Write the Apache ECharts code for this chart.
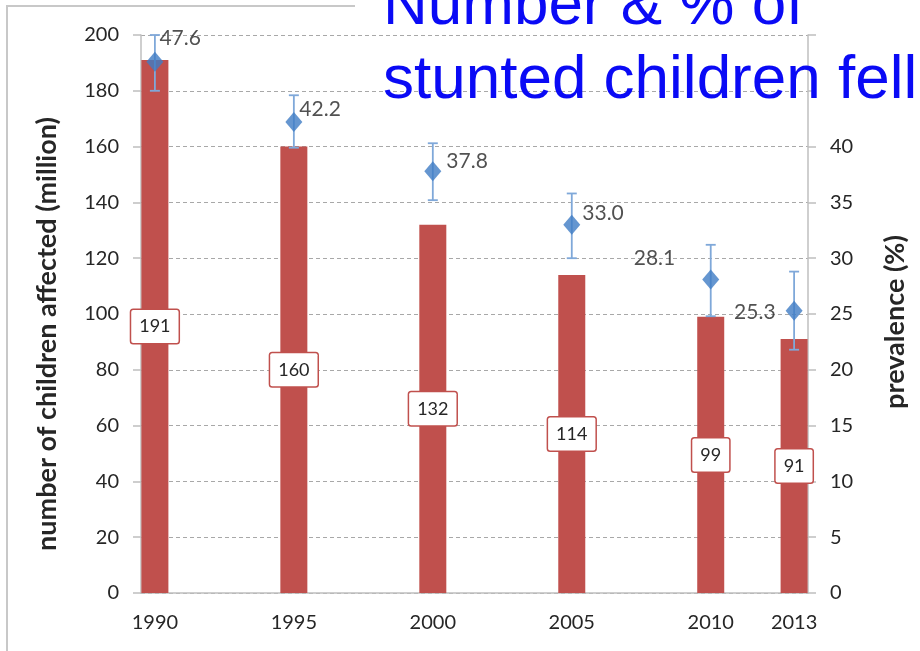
<!DOCTYPE html>
<html>
<head>
<meta charset="utf-8">
<script src="https://cdn.jsdelivr.net/npm/echarts@6/dist/echarts.min.js"></script>
<style>
  html, body { margin: 0; padding: 0; background: #fff; }
  #chart { width: 920px; height: 651px; }
</style>
</head>
<body>
<div id="chart"></div>
<script>
// values
var years = ['1990', '1995', '2000', '2005', '2010', '2013'];
var children = [191, 160, 132, 114, 99, 91];          // million
var prevalence = [47.6, 42.2, 37.8, 33.0, 28.1, 25.3]; // %
var prevLow = [45.0, 39.9, 35.2, 30.0, 24.8, 21.8];
var prevHigh = [50.0, 44.6, 40.3, 35.8, 31.2, 28.8];

// where each prevalence label sits next to its diamond
var labelPlace = [
    { position: 'right', distance: 0, offset: [-4, -24] },
    { position: 'right', distance: 0, offset: [-3, -13] },
    { position: 'right', distance: 5, offset: [0, -10] },
    { position: 'right', distance: 2, offset: [0, -11] },
    { position: 'left', distance: 27, offset: [0, -21] },
    { position: 'left', distance: 10, offset: [0, 2] }
];

// the axis is one slot per year, 1990..2013
var allYears = [];
for (var y = 1990; y <= 2013; y++) {
    allYears.push(String(y));
}

var red = '#c0504d';
var blue = '#3f7cc4';
var errBlue = '#7fa8d9';
var txt = '#262626';
var axisGrey = '#bfbfbf';
var font = 'Lato';

var barData = years.map(function (yr, i) {
    return [yr, children[i]];
});

var dotData = years.map(function (yr, i) {
    return {
        value: [yr, prevalence[i]],
        label: labelPlace[i]
    };
});

var errData = years.map(function (yr, i) {
    return [yr, prevLow[i], prevHigh[i]];
});

var chart = echarts.init(document.getElementById('chart'));

chart.setOption({
    animation: false,
    backgroundColor: '#fff',
    title: {
        text: 'Number & % of\nstunted children fell',
        left: 378,
        top: -35,
        textStyle: {
            fontFamily: 'Liberation Sans',
            fontSize: 62,
            fontWeight: 'normal',
            color: '#0a0af5',
            lineHeight: 74
        }
    },
    graphic: [{
        type: 'polyline',
        shape: { points: [[355, 6], [7, 6], [7, 651]] },
        style: { stroke: '#c8c8c8', lineWidth: 2, fill: null },
        z: -1
    }],
    grid: {
        left: 141,
        right: 112,
        top: 35,
        bottom: 58
    },
    xAxis: {
        type: 'category',
        data: allYears,
        boundaryGap: true,
        axisLine: { lineStyle: { color: axisGrey, width: 1.5 } },
        axisTick: {
            interval: 0,
            length: 8,
            lineStyle: { color: axisGrey, width: 1.5 }
        },
        axisLabel: {
            interval: function (idx, val) {
                return years.indexOf(val) >= 0;
            },
            margin: 20,
            color: txt,
            fontFamily: font,
            fontSize: 20
        },
        splitLine: { show: false }
    },
    yAxis: [{
        type: 'value',
        min: 0,
        max: 200,
        interval: 20,
        name: 'number of children affected (million)',
        nameLocation: 'middle',
        nameRotate: 90,
        nameGap: 80,
        nameTextStyle: {
            color: txt,
            fontFamily: font,
            fontWeight: 'bold',
            fontSize: 27,
            padding: [0, 40, 0, 0]
        },
        axisLine: { show: true, lineStyle: { color: axisGrey, width: 1.5 } },
        axisTick: { show: true, length: 8, lineStyle: { color: axisGrey, width: 1.5 } },
        axisLabel: {
            margin: 22,
            color: txt,
            fontFamily: font,
            fontSize: 20
        },
        splitLine: {
            lineStyle: { color: '#a8a8a8', type: [4, 3], width: 1 }
        }
    }, {
        type: 'value',
        position: 'right',
        min: 0,
        max: 50,
        interval: 5,
        name: 'prevalence (%)',
        nameLocation: 'middle',
        nameRotate: 90,
        nameGap: 74,
        nameTextStyle: {
            color: txt,
            fontFamily: font,
            fontWeight: 'bold',
            fontSize: 27,
            padding: [0, 16, 0, 0]
        },
        axisLine: { show: true, lineStyle: { color: axisGrey, width: 1.5 } },
        axisTick: { show: true, length: 8, lineStyle: { color: axisGrey, width: 1.5 } },
        axisLabel: {
            margin: 22,
            color: txt,
            fontFamily: font,
            fontSize: 20,
            formatter: function (v) {
                return v > 40 ? '' : String(v);
            }
        },
        splitLine: { show: false }
    }],
    series: [{
        name: 'children',
        type: 'bar',
        data: barData,
        barWidth: 27,
        itemStyle: { color: red },
        label: {
            show: true,
            position: 'inside',
            color: txt,
            fontFamily: font,
            fontSize: 18,
            backgroundColor: '#fff',
            borderColor: red,
            borderWidth: 1.5,
            borderRadius: 2,
            padding: [8, 8, 7, 8]
        },
        z: 2
    }, {
        name: 'range',
        type: 'custom',
        yAxisIndex: 1,
        data: errData,
        z: 3,
        renderItem: function (params, api) {
            var lo = api.coord([api.value(0), api.value(1)]);
            var hi = api.coord([api.value(0), api.value(2)]);
            var cap = 5;
            var st = { stroke: errBlue, lineWidth: 1.8 };
            return {
                type: 'group',
                children: [{
                    type: 'line',
                    shape: { x1: lo[0], y1: lo[1], x2: hi[0], y2: hi[1] },
                    style: st
                }, {
                    type: 'line',
                    shape: { x1: hi[0] - cap, y1: hi[1], x2: hi[0] + cap, y2: hi[1] },
                    style: st
                }, {
                    type: 'line',
                    shape: { x1: lo[0] - cap, y1: lo[1], x2: lo[0] + cap, y2: lo[1] },
                    style: st
                }]
            };
        }
    }, {
        name: 'prevalence',
        type: 'scatter',
        yAxisIndex: 1,
        data: dotData,
        symbol: 'diamond',
        symbolSize: [17, 20],
        itemStyle: { color: blue },
        label: {
            show: true,
            color: txt,
            fontFamily: font,
            fontSize: 21,
            formatter: function (p) {
                return p.value[1].toFixed(1);
            }
        },
        z: 4
    }]
});
</script>
</body>
</html>
